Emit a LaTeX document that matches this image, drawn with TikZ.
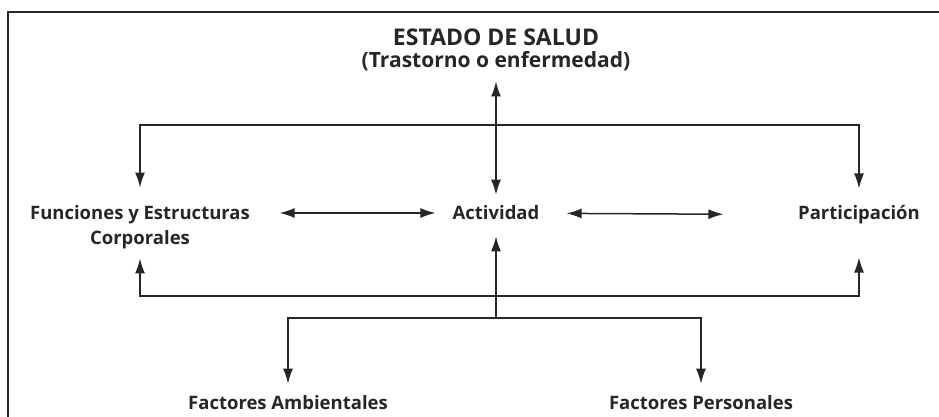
\documentclass[tikz,border=0pt]{standalone}
\usepackage{fontspec}
\setmainfont{Open Sans}
\usetikzlibrary{arrows.meta}
\begin{document}
\begin{tikzpicture}[x=1pt,y=1pt]
    \tikzset{texto/.style = {font=\bfseries\fontsize{18.5}{25}\selectfont, text=black!85, align=center, inner sep=0pt}}
    \tikzset{flecha/.style = {line width=1.5pt, draw=black!85, > = {Latex[length=15pt,width=10pt]}}}
    \useasboundingbox (0,0) rectangle (939,417);
    \draw[line width=2pt, black!85] (939,405) -- (8,405) -- (8,0);
    \node[texto, font=\bfseries\fontsize{21}{22}\selectfont] (salud) at (496,366.7) {{\fontsize{23}{22}\selectfont ESTADO DE SALUD}\\(Trastorno o enfermedad)};
    \node[texto] (funciones) at (140,189.5) {Funciones y Estructuras\\Corporales};
    \node[texto] (actividad) at (496,204) {Actividad};
    \node[texto] (participacion) at (859,202) {Participación};
    \node[texto] (ambientales) at (288,14) {Factores Ambientales};
    \node[texto] (personales) at (701,14) {Factores Personales};
    \coordinate (arriba) at (496,292);
    \coordinate (base) at (496,121);
    \coordinate (raiz) at (496,99);
    \draw[flecha, <->, shorten <=10pt, shorten >=11pt] (salud) -- (actividad);
    \draw[flecha, ->, shorten >=18pt] (arriba) -| (funciones);
    \draw[flecha, ->, shorten >=17pt] (arriba) -| (participacion);
    \draw[flecha, <->, shorten <=29.5pt, shorten >=17pt] (funciones.east |- actividad) -- (actividad);
    \draw[flecha, <->, shorten <=27pt, shorten >=74.5pt] (actividad) -- (participacion);
    \draw[flecha, <->, shorten <=9pt, shorten >=33pt] (funciones) |- (base) -| (participacion);
    \draw[flecha, ->, shorten >=16pt] (raiz) -- (actividad);
    \draw[flecha, ->, shorten >=12pt] (raiz) -| (ambientales);
    \draw[flecha, ->, shorten >=12pt] (raiz) -| (personales);
\end{tikzpicture}
\end{document}
